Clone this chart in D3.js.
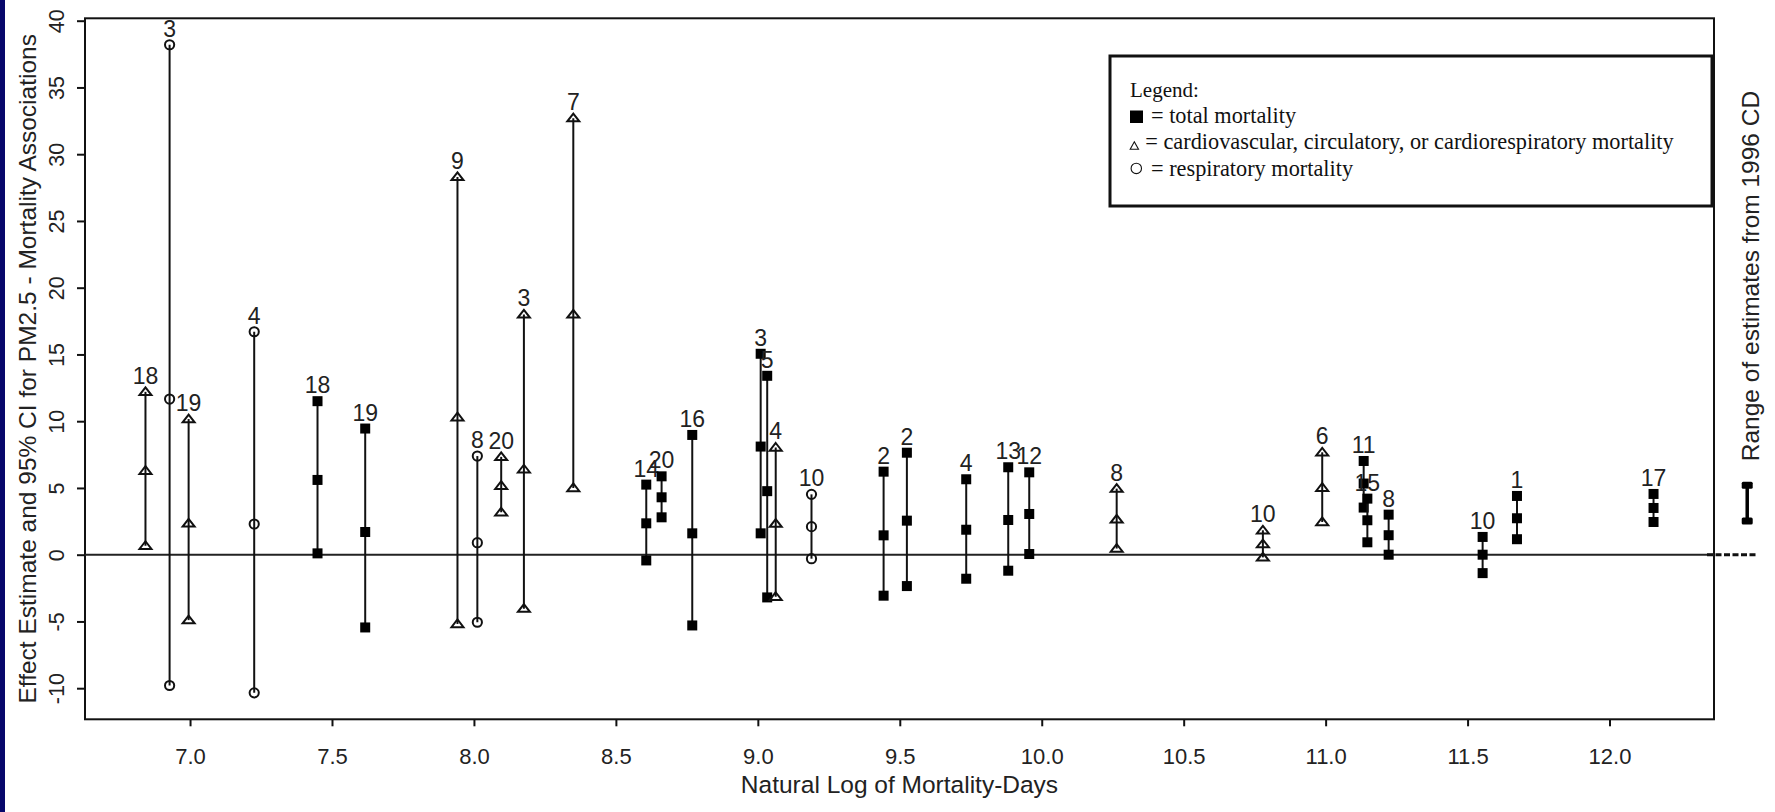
<!DOCTYPE html>
<html>
<head>
<meta charset="utf-8">
<script src="https://cdnjs.cloudflare.com/ajax/libs/d3/7.8.5/d3.min.js"></script>
<style>
body { margin:0; background:#fff; overflow:hidden; }
</style>
</head>
<body>
<div id="chart"></div>
<script>
// one entry per study estimate
var logDays = [6.843, 6.928, 6.995, 7.226, 7.449, 7.617, 7.942, 8.012, 8.096, 8.176, 8.350,
               8.607, 8.661, 8.769, 9.010, 9.033, 9.063, 9.189, 9.443, 9.525, 9.734, 9.882,
               9.956, 10.264, 10.779, 10.988, 11.134, 11.147, 11.222, 11.553, 11.674, 12.155];
var lowCI   = [0.67, -9.8, -4.9, -10.35, 0.1, -5.45, -5.19, -5.06, 3.18, -4.04, 5.0,
               -0.43, 2.8, -5.3, 1.6, -3.2, -3.15, -0.3, -3.07, -2.35, -1.8, -1.2,
               0.05, 0.46, -0.2, 2.45, 3.53, 0.93, 0.0, -1.38, 1.16, 2.45];
var estimate = [6.29, 11.66, 2.35, 2.3, 5.6, 1.7, 10.3, 0.9, 5.17, 6.4, 18.0,
               2.35, 4.3, 1.6, 8.1, 4.76, 2.33, 2.1, 1.45, 2.55, 1.87, 2.6,
               3.05, 2.65, 0.8, 5.02, 5.33, 2.58, 1.46, 0.0, 2.73, 3.5];
var highCI  = [12.2, 38.2, 10.16, 16.7, 11.5, 9.45, 28.3, 7.39, 7.33, 18.0, 32.7,
               5.25, 5.87, 8.97, 15.05, 13.4, 8.03, 4.52, 6.22, 7.64, 5.65, 6.55,
               6.17, 4.95, 1.83, 7.67, 7.02, 4.2, 3.0, 1.33, 4.4, 4.55];
// sq = total, tri = cardiovascular etc, circ = respiratory
var markType = ["tri","circ","tri","circ","sq","sq","tri","circ","tri","tri","tri",
                "sq","sq","sq","sq","sq","tri","circ","sq","sq","sq","sq",
                "sq","tri","tri","tri","sq","sq","sq","sq","sq","sq"];
var studyNum = ["18","3","19","4","18","19","9","8","20","3","7",
                "14","20","16","3","5","4","10","2","2","4","13",
                "12","8","10","6","11","15","8","10","1","17"];

var xTicks = [7.0, 7.5, 8.0, 8.5, 9.0, 9.5, 10.0, 10.5, 11.0, 11.5, 12.0];
var yTicks = [-10, -5, 0, 5, 10, 15, 20, 25, 30, 35, 40];

// 1996 criteria document range, drawn outside the box
var cdPosition = 12.485;
var cdRange = [2.53, 5.2];

var legendTitle = "Legend:";
var legendText = ["= total mortality",
                  "= cardiovascular, circulatory, or cardiorespiratory mortality",
                  "= respiratory mortality"];
var legendMarks = ["sq", "tri", "circ"];

var width = 1775, height = 812;
// plot box edges (window.top is taken, so no plain "top")
var boxL = 85, boxR = 1714, boxT = 18.3, boxB = 719.3;

var svg = d3.select("#chart").append("svg")
    .attr("width", width)
    .attr("height", height)
    .style("font-family", "'Liberation Sans', Arial, sans-serif");

svg.append("rect").attr("width", width).attr("height", height).attr("fill", "#fff");
// the blue slide edge on the left
svg.append("rect").attr("x", 0).attr("y", 0).attr("width", 5).attr("height", height).attr("fill", "#07076b");

var x = d3.scaleLinear().domain([6.63, 12.368]).range([boxL, boxR]);
var y = d3.scaleLinear().domain([-12.33, 40.18]).range([boxB, boxT]);

// axes
var xAxis = svg.append("g")
    .attr("transform", "translate(0," + boxB + ")")
    .call(d3.axisBottom(x).tickValues(xTicks).tickSize(7).tickFormat(d3.format(".1f")));
xAxis.select(".domain").remove();
xAxis.selectAll("line").attr("stroke", "#111").attr("stroke-width", 2);
xAxis.selectAll("text")
    .attr("y", 45).attr("dy", 0)
    .attr("fill", "#222")
    .style("font-size", "22px")
    .style("font-family", "'Liberation Sans', Arial, sans-serif");

// plain hyphen for negatives, like the original
var yAxis = svg.append("g")
    .attr("transform", "translate(" + boxL + ",0)")
    .call(d3.axisLeft(y).tickValues(yTicks).tickSize(8).tickFormat(function(d) { return String(d); }));
yAxis.select(".domain").remove();
yAxis.selectAll("line").attr("stroke", "#111").attr("stroke-width", 2);
yAxis.selectAll("text")
    .attr("x", 0).attr("dy", 0)
    .attr("transform", "translate(-21.5,0) rotate(-90)")
    .attr("text-anchor", "middle")
    .attr("fill", "#222")
    .style("font-size", "21.5px")
    .style("font-family", "'Liberation Sans', Arial, sans-serif");

// box round the plot
svg.append("rect")
    .attr("x", boxL).attr("y", boxT)
    .attr("width", boxR - boxL).attr("height", boxB - boxT)
    .attr("fill", "none").attr("stroke", "#111").attr("stroke-width", 2);

// zero reference line
svg.append("line")
    .attr("x1", boxL).attr("x2", boxR)
    .attr("y1", y(0)).attr("y2", y(0))
    .attr("stroke", "#222").attr("stroke-width", 2);
svg.append("line")
    .attr("x1", boxR - 7).attr("x2", x(cdPosition) + 9)
    .attr("y1", y(0)).attr("y2", y(0))
    .attr("stroke", "#111").attr("stroke-width", 3)
    .attr("stroke-dasharray", "6,2.5");

// titles
svg.append("text")
    .attr("x", (boxL + boxR) / 2).attr("y", 793)
    .attr("text-anchor", "middle")
    .attr("fill", "#222")
    .style("font-size", "24.5px")
    .text("Natural Log of Mortality-Days");

svg.append("text")
    .attr("transform", "translate(36," + ((boxT + boxB) / 2) + ") rotate(-90)")
    .attr("text-anchor", "middle")
    .attr("fill", "#222")
    .style("font-size", "24.5px")
    .text("Effect Estimate and 95% CI for PM2.5 - Mortality Associations");

svg.append("text")
    .attr("transform", "translate(1759,276) rotate(-90)")
    .attr("text-anchor", "middle")
    .attr("fill", "#222")
    .style("font-size", "24.5px")
    .text("Range of estimates from 1996 CD");

// build rows so d3 can join them
var rows = logDays.map(function(d, i) {
    return { x: d, lo: lowCI[i], est: estimate[i], hi: highCI[i], type: markType[i], num: studyNum[i] };
});

var triPath = "M0,-4.5L6,3.2L-6,3.2Z";

function drawMark(sel, type) {
    if (type == "sq") {
        sel.append("rect").attr("x", -5).attr("y", -5).attr("width", 10).attr("height", 10)
            .attr("fill", "#000");
    } else if (type == "tri") {
        sel.append("path").attr("d", triPath)
            .attr("fill", "none").attr("stroke", "#111").attr("stroke-width", 2);
    } else {
        sel.append("circle").attr("r", 4.6)
            .attr("fill", "none").attr("stroke", "#111").attr("stroke-width", 2);
    }
}

var study = svg.selectAll(".study")
    .data(rows)
    .enter().append("g")
    .attr("class", "study");

// CI whiskers
study.append("line")
    .attr("x1", function(d) { return x(d.x); })
    .attr("x2", function(d) { return x(d.x); })
    .attr("y1", function(d) { return y(d.lo); })
    .attr("y2", function(d) { return y(d.hi); })
    .attr("stroke", "#111").attr("stroke-width", 2);

// three markers per study: lower, estimate, upper
study.each(function(d) {
    var g = d3.select(this);
    [d.lo, d.est, d.hi].forEach(function(v) {
        var m = g.append("g").attr("transform", "translate(" + x(d.x) + "," + y(v) + ")");
        drawMark(m, d.type);
    });
});

// study numbers over each bar
study.append("text")
    .attr("x", function(d) { return x(d.x); })
    .attr("y", function(d) { return y(d.hi) - 8; })
    .attr("text-anchor", "middle")
    .attr("fill", "#222")
    .style("font-size", "23px")
    .text(function(d) { return d.num; });

// the 1996 CD range bar
svg.append("line")
    .attr("x1", x(cdPosition)).attr("x2", x(cdPosition))
    .attr("y1", y(cdRange[0])).attr("y2", y(cdRange[1]))
    .attr("stroke", "#000").attr("stroke-width", 3.5);
svg.selectAll(".cdend")
    .data(cdRange)
    .enter().append("rect")
    .attr("class", "cdend")
    .attr("x", x(cdPosition) - 5.5)
    .attr("y", function(d) { return y(d) - 3.5; })
    .attr("width", 11).attr("height", 7)
    .attr("rx", 1.5)
    .attr("fill", "#000");

// legend box
var lg = svg.append("g").attr("transform", "translate(1110,56)");
lg.append("rect")
    .attr("width", 602).attr("height", 150)
    .attr("fill", "#fff").attr("stroke", "#111").attr("stroke-width", 3);
lg.append("text")
    .attr("x", 20).attr("y", 41)
    .attr("fill", "#111")
    .style("font-family", "'Liberation Serif', 'Times New Roman', serif")
    .style("font-size", "21px")
    .text(legendTitle);

var lgRow = lg.selectAll(".lgrow")
    .data(legendText)
    .enter().append("g")
    .attr("class", "lgrow")
    .attr("transform", function(d, i) { return "translate(0," + (67 + i * 26.3) + ")"; });

lgRow.each(function(d, i) {
    var g = d3.select(this);
    if (legendMarks[i] == "sq") {
        g.append("rect").attr("x", 20).attr("y", -12.5).attr("width", 13).attr("height", 12.5).attr("fill", "#000");
    } else if (legendMarks[i] == "tri") {
        g.append("path").attr("d", "M24.3,-7.5L28.5,0L20.2,0Z")
            .attr("fill", "none").attr("stroke", "#111").attr("stroke-width", 1.1);
    } else {
        g.append("circle").attr("cx", 26.3).attr("cy", -7.2).attr("r", 5.2)
            .attr("fill", "none").attr("stroke", "#111").attr("stroke-width", 1.1);
    }
});

lgRow.append("text")
    .attr("x", function(d, i) { return legendMarks[i] == "tri" ? 35.3 : 41; })
    .attr("y", 0)
    .attr("fill", "#111")
    .style("font-family", "'Liberation Serif', 'Times New Roman', serif")
    .style("font-size", "22.3px")
    .text(function(d) { return d; });
</script>
</body>
</html>
